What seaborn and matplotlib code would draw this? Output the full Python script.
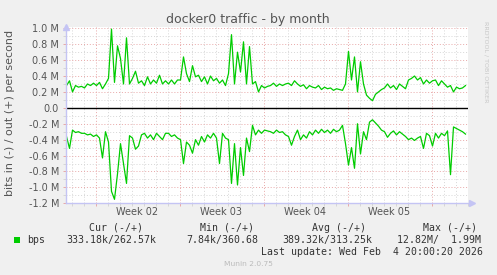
import matplotlib
matplotlib.use("Agg")
import matplotlib.pyplot as plt
import matplotlib.dates as mdates
import matplotlib.ticker as mticker
from matplotlib.patches import Rectangle
import numpy as np
import pandas as pd
import seaborn as sns

# ---------------- data (values in Mbit/s, sampled every 6 h) ----------------
start_time = "2026-01-02 14:00"
end_time = "2026-02-04 20:00"
sample_freq = "6h"

out_mbps = [0.28, 0.34, 0.20, 0.28, 0.26, 0.27, 0.25, 0.30, 0.28, 0.31, 0.28, 0.32, 0.24, 0.30,
            0.37, 0.99, 0.32, 0.78, 0.62, 0.30, 0.88, 0.30, 0.37, 0.46, 0.31, 0.34, 0.28, 0.39,
            0.30, 0.35, 0.31, 0.41, 0.30, 0.34,
            0.30, 0.35, 0.30, 0.35, 0.35, 0.64, 0.43, 0.33, 0.53, 0.39, 0.41, 0.33, 0.39, 0.30,
            0.40, 0.34, 0.37, 0.31, 0.35, 0.28, 0.43, 0.92, 0.30, 0.70, 0.45, 0.83, 0.30, 0.77,
            0.30, 0.33, 0.20, 0.28, 0.25,
            0.27, 0.28, 0.31, 0.27, 0.30, 0.28, 0.30, 0.31, 0.28, 0.34, 0.30, 0.27, 0.29, 0.24,
            0.28, 0.26, 0.25, 0.28, 0.23, 0.26, 0.24, 0.25, 0.22, 0.24, 0.23, 0.22, 0.30, 0.71,
            0.35, 0.64, 0.20, 0.58, 0.30,
            0.16, 0.12, 0.09, 0.17, 0.20, 0.23, 0.25, 0.30, 0.25, 0.28, 0.23, 0.30, 0.27, 0.24,
            0.35, 0.37, 0.40, 0.35, 0.38, 0.30, 0.35, 0.31, 0.34, 0.35, 0.28, 0.34, 0.30, 0.26,
            0.28, 0.20, 0.26, 0.24, 0.25, 0.28]

in_mbps = [0.36, 0.51, 0.28, 0.31, 0.30, 0.32, 0.32, 0.34, 0.33, 0.36, 0.34, 0.38, 0.63, 0.30,
           0.43, 1.05, 1.15, 0.83, 0.45, 0.70, 0.95, 0.35, 0.38, 0.52, 0.48, 0.34, 0.32, 0.38,
           0.34, 0.40, 0.32, 0.36, 0.40, 0.32,
           0.32, 0.36, 0.34, 0.38, 0.40, 0.70, 0.43, 0.47, 0.57, 0.40, 0.47, 0.36, 0.43, 0.34,
           0.38, 0.32, 0.38, 0.70, 0.32, 0.38, 0.40, 0.95, 0.45, 0.97, 0.50, 0.85, 0.38, 0.55,
           0.22, 0.34, 0.28, 0.32, 0.28,
           0.29, 0.30, 0.32, 0.28, 0.31, 0.30, 0.34, 0.36, 0.47, 0.36, 0.28, 0.40, 0.34, 0.38,
           0.30, 0.34, 0.28, 0.32, 0.27, 0.31, 0.28, 0.32, 0.27, 0.30, 0.28, 0.22, 0.45, 0.72,
           0.50, 0.76, 0.20, 0.58, 0.30,
           0.40, 0.18, 0.15, 0.19, 0.23, 0.28, 0.30, 0.37, 0.32, 0.29, 0.34, 0.30, 0.33, 0.36,
           0.40, 0.38, 0.41, 0.38, 0.36, 0.51, 0.32, 0.35, 0.48, 0.32, 0.38, 0.32, 0.35, 0.29,
           0.84, 0.24, 0.26, 0.28, 0.30, 0.33]

ytick_values = [1.0e6, 0.8e6, 0.6e6, 0.4e6, 0.2e6, 0.0, -0.2e6, -0.4e6, -0.6e6, -0.8e6, -1.0e6, -1.2e6]
ytick_labels = ["1.0 M", "0.8 M", "0.6 M", "0.4 M", "0.2 M", "0.0", "-0.2 M", "-0.4 M",
                "-0.6 M", "-0.8 M", "-1.0 M", "-1.2 M"]
week_starts = ["2026-01-05", "2026-01-12", "2026-01-19", "2026-01-26", "2026-02-02"]
week_labels = ["Week 02", "Week 03", "Week 04", "Week 05"]

title = "docker0 traffic - by month"
ylabel = "bits in (-) / out (+) per second"
legend_headers = ["Cur (-/+)", "Min (-/+)", "Avg (-/+)", "Max (-/+)"]
legend_name = "bps"
legend_values = ["333.18k/262.57k", "7.84k/360.68", "389.32k/313.25k", "12.82M/  1.99M"]
last_update = "Last update: Wed Feb  4 20:00:20 2026"
footer = "Munin 2.0.75"
side_text = "RRDTOOL / TOBI OETIKER"

# ---------------- build frame ----------------
times = pd.date_range(start_time, end_time, freq=sample_freq)
df = pd.DataFrame({
    "time": times,
    "out": np.array(out_mbps) * 1e6,
    "in": -np.array(in_mbps) * 1e6,
})

# ---------------- figure ----------------
W, H = 497, 275
BG = "#F0F0F0"
GREEN = "#00CC00"
AXIS = "#C4C4F4"
MINOR = "#D6D6D6"
MAJOR = "#E8A8A8"
TXT = "#555555"

fig = plt.figure(figsize=(W / 100, H / 100), dpi=100, facecolor=BG)
l, r, t, b = 66, 468, 26.7, 203.3
ax = fig.add_axes([l / W, 1 - b / H, (r - l) / W, (b - t) / H])
ax.set_facecolor("white")

sns.lineplot(data=df, x="time", y="out", ax=ax, color=GREEN, linewidth=0.9, zorder=4)
sns.lineplot(data=df, x="time", y="in", ax=ax, color=GREEN, linewidth=0.9, zorder=4)
ax.axhline(0, color="black", linewidth=1.0, zorder=3)

ax.set_xlim(pd.Timestamp("2026-01-02 13:00"), pd.Timestamp("2026-02-05 01:00"))
ax.set_ylim(-1.2e6, 1.02e6)

# y ticks / grid
ax.set_yticks(ytick_values)
ax.set_yticklabels(ytick_labels)
ax.yaxis.set_minor_locator(mticker.MultipleLocator(0.1e6))
# x ticks / grid
ax.xaxis.set_major_locator(mdates.WeekdayLocator(byweekday=mdates.MO))
ax.xaxis.set_minor_locator(mdates.DayLocator())
ax.xaxis.set_major_formatter(mticker.NullFormatter())

dots = (0, (1, 2))
ax.grid(which="minor", color=MINOR, linestyle=dots, linewidth=0.7, zorder=1)
ax.grid(which="major", color=MAJOR, linestyle=dots, linewidth=0.7, zorder=2)
ax.set_axisbelow(True)

ax.tick_params(axis="both", which="major", length=2, width=0.7, color=MAJOR,
               labelsize=7, labelcolor=TXT, pad=3)
ax.tick_params(axis="both", which="minor", length=2, width=0.7, color=MINOR)

for s in ["top", "right"]:
    ax.spines[s].set_visible(False)
for s in ["left", "bottom"]:
    ax.spines[s].set_color(AXIS)
    ax.spines[s].set_linewidth(1.0)
    ax.spines[s].set_zorder(5)

# axis arrows
ax.plot([0], [1.0], marker="^", markersize=4, color=AXIS, transform=ax.transAxes,
        clip_on=False, zorder=6)
ax.plot([1.01], [0], marker=">", markersize=4, color=AXIS, transform=ax.transAxes,
        clip_on=False, zorder=6)

ax.set_xlabel("")
ax.set_ylabel("")

# week labels centred in each week
for ws, lab in zip(week_starts[:-1], week_labels):
    xc = mdates.date2num(pd.Timestamp(ws) + pd.Timedelta(hours=84))
    ax.text(xc, -0.05, lab, transform=ax.get_xaxis_transform(), ha="center", va="center",
            fontsize=7, color=TXT)

# title and labels
fig.text(248 / W, 1 - 19.3 / H, title, ha="center", va="center", fontsize=9, color=TXT)
fig.text(10 / W, 1 - 113 / H, ylabel, rotation=90, ha="center", va="center",
         fontsize=8, color=TXT)
fig.text(486 / W, 1 - 62 / H, side_text, rotation=270, ha="center", va="center",
         fontsize=4.6, color="#C8C8C8")

# legend block (monospace)
mono = dict(family="DejaVu Sans Mono", fontsize=7.1, color="#333333", va="center")
hdr_x = [89.3, 200.0, 311.7, 422.7]
val_x = [66.7, 186.7, 282.7, 397.3]
for x, h in zip(hdr_x, legend_headers):
    fig.text(x / W, 1 - 227.7 / H, h, ha="left", **mono)
for x, v in zip(val_x, legend_values):
    fig.text(x / W, 1 - 240 / H, v, ha="left", **mono)
fig.text(26.7 / W, 1 - 240 / H, legend_name, ha="left", **mono)
fig.patches.append(Rectangle((14 / W, 1 - 242.7 / H), 6 / W, 6 / H, transform=fig.transFigure,
                             facecolor=GREEN, edgecolor="none"))
fig.text(482.7 / W, 1 - 251.7 / H, last_update, ha="right", **mono)
fig.text(248 / W, 1 - 264 / H, footer, ha="center", va="center", fontsize=5.4, color="#BBBBBB")

fig.savefig("out.png", dpi=100, facecolor=BG)
